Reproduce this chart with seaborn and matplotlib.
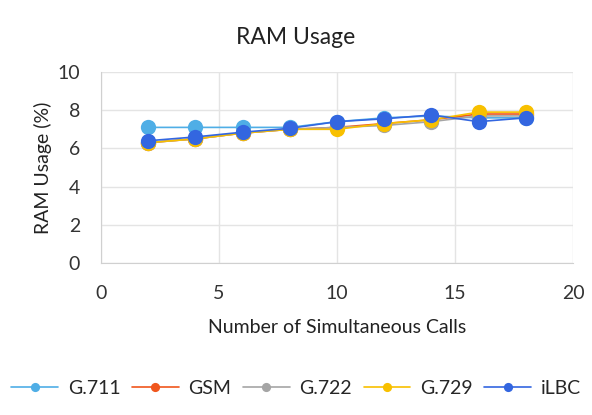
import numpy as np
import pandas as pd
import seaborn as sns
import matplotlib.pyplot as plt

# =============================================================================
# Data
# =============================================================================
CALLS = [2, 4, 6, 8, 10, 12, 14, 16, 18]

G711 = [7.1, 7.1, 7.1, 7.1, 7.4, 7.6, 7.7, 7.6, 7.6]
GSM  = [6.3, 6.5, 6.8, 7.0, 7.1, 7.3, 7.5, 7.8, 7.8]
G722 = [6.3, 6.5, 6.8, 7.0, 7.1, 7.2, 7.4, 7.7, 7.7]
G729 = [6.3, 6.5, 6.8, 7.0, 7.0, 7.3, 7.5, 7.9, 7.9]
ILBC = [6.4, 6.6, 6.85, 7.05, 7.4, 7.55, 7.75, 7.4, 7.6]

CODECS = ["G.711", "GSM", "G.722", "G.729", "iLBC"]
COLORS = ["#4FAEE6", "#F0561D", "#A5A5A5", "#F8C000", "#3366E0"]

X_TICKS = [0, 5, 10, 15, 20]
Y_TICKS = [0, 2, 4, 6, 8, 10]
# =============================================================================


def build_frame():
    series = [G711, GSM, G722, G729, ILBC]
    rows = []
    for name, vals in zip(CODECS, series):
        for c, v in zip(CALLS, vals):
            rows.append({"calls": c, "ram": v, "codec": name})
    return pd.DataFrame(rows)


def main():
    sns.set_style("white")
    plt.rcParams["font.family"] = ["Lato", "DejaVu Sans"]

    df = build_frame()
    fig = plt.figure(figsize=(5.92, 4.15), dpi=100)
    ax = fig.add_axes([101 / 592, 1 - 263 / 415, 472 / 592, 191 / 415])

    sns.lineplot(data=df, x="calls", y="ram", hue="codec", hue_order=CODECS,
                 palette=COLORS, marker="o", markersize=11, markeredgewidth=0,
                 linewidth=1.2, ax=ax, legend=True)

    ax.set_xlim(0, 20)
    ax.set_ylim(0, 10)
    ax.set_xticks(X_TICKS)
    ax.set_yticks(Y_TICKS)
    ax.grid(True, color="#E4E4E4", linewidth=1)
    ax.set_axisbelow(True)
    for side in ["top", "right"]:
        ax.spines[side].set_visible(False)
    ax.spines["left"].set_color("#D0D0D0")
    ax.spines["bottom"].set_color("#D0D0D0")
    ax.tick_params(axis="both", length=0, labelsize=14, colors="#333333")
    ax.tick_params(axis="x", pad=16)
    ax.tick_params(axis="y", pad=15)

    ax.set_xlabel("Number of Simultaneous Calls", fontsize=14, color="#222222", labelpad=12)
    ax.set_ylabel("RAM Usage (%)", fontsize=14, color="#222222", labelpad=4)
    fig.text(0.5, 1 - 38 / 415, "RAM Usage", ha="center", va="center",
             fontsize=16.5, color="#222222")

    handles, labels = ax.get_legend_handles_labels()
    ax.get_legend().remove()
    fig.legend(handles, labels, loc="center", bbox_to_anchor=(0.5, 1 - 388 / 415),
               ncol=5, frameon=False, fontsize=14, handlelength=2.4,
               columnspacing=0.6, handletextpad=0.5, markerscale=0.6)

    fig.savefig("out.png", dpi=100)
    plt.close(fig)


if __name__ == "__main__":
    main()
